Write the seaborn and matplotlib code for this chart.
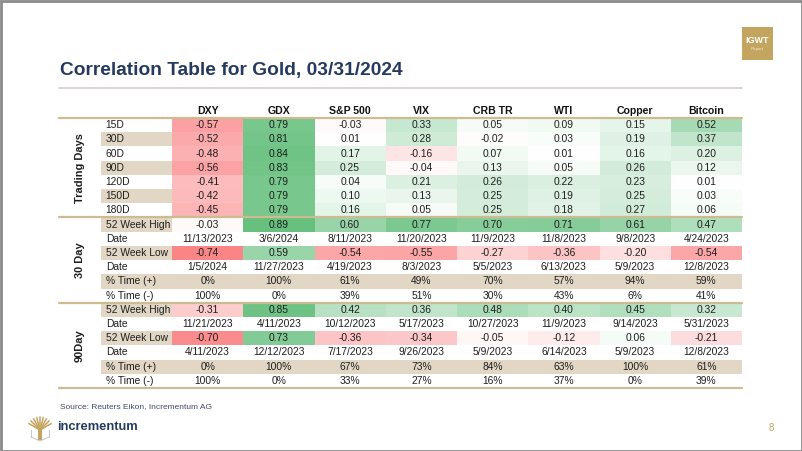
import numpy as np
import pandas as pd
import matplotlib
matplotlib.use("Agg")
import matplotlib.pyplot as plt
import seaborn as sns
from matplotlib.colors import LinearSegmentedColormap
from matplotlib.patches import Rectangle
from matplotlib.lines import Line2D

sns.set_theme(style="white")
plt.rcParams["font.family"] = ["Liberation Sans", "DejaVu Sans"]

# ---------------- data ----------------
columns = ["DXY", "GDX", "S&P 500", "VIX", "CRB TR", "WTI", "Copper", "Bitcoin"]
td_labels = ["15D", "30D", "60D", "90D", "120D", "150D", "180D"]
td_values = [
    [-0.57, 0.79, -0.03, 0.33, 0.05, 0.09, 0.15, 0.52],
    [-0.52, 0.81, 0.01, 0.28, -0.02, 0.03, 0.19, 0.37],
    [-0.48, 0.84, 0.17, -0.16, 0.07, 0.01, 0.16, 0.20],
    [-0.56, 0.83, 0.25, -0.04, 0.13, 0.05, 0.26, 0.12],
    [-0.41, 0.79, 0.04, 0.21, 0.26, 0.22, 0.23, 0.01],
    [-0.42, 0.79, 0.10, 0.13, 0.25, 0.19, 0.25, 0.03],
    [-0.45, 0.79, 0.16, 0.05, 0.25, 0.18, 0.27, 0.06],
]
d30_high = [-0.03, 0.89, 0.60, 0.77, 0.70, 0.71, 0.61, 0.47]
d30_high_date = ["11/13/2023", "3/6/2024", "8/11/2023", "11/20/2023", "11/9/2023", "11/8/2023", "9/8/2023", "4/24/2023"]
d30_low = [-0.74, 0.59, -0.54, -0.55, -0.27, -0.36, -0.20, -0.54]
d30_low_date = ["1/5/2024", "11/27/2023", "4/19/2023", "8/3/2023", "5/5/2023", "6/13/2023", "5/9/2023", "12/8/2023"]
d30_pos = [0, 100, 61, 49, 70, 57, 94, 59]
d30_neg = [100, 0, 39, 51, 30, 43, 6, 41]
d90_high = [-0.31, 0.85, 0.42, 0.36, 0.48, 0.40, 0.45, 0.32]
d90_high_date = ["11/21/2023", "4/11/2023", "10/12/2023", "5/17/2023", "10/27/2023", "11/9/2023", "9/14/2023", "5/31/2023"]
d90_low = [-0.70, 0.73, -0.36, -0.34, -0.05, -0.12, 0.06, -0.21]
d90_low_date = ["4/11/2023", "12/12/2023", "7/17/2023", "9/26/2023", "5/9/2023", "6/14/2023", "5/9/2023", "12/8/2023"]
d90_pos = [0, 100, 67, 73, 84, 63, 100, 61]
d90_neg = [100, 0, 33, 27, 16, 37, 0, 39]
group_labels = ["Trading Days", "30 Day", "90Day"]
block_labels = ["52 Week High", "Date", "52 Week Low", "Date", "% Time (+)", "% Time (-)"]

# ---------------- build table ----------------
rows = []  # (label, kind, values)
for lab, vals in zip(td_labels, td_values):
    rows.append((lab, "num", vals))
for hi, hid, lo, lod, pos, neg in [
    (d30_high, d30_high_date, d30_low, d30_low_date, d30_pos, d30_neg),
    (d90_high, d90_high_date, d90_low, d90_low_date, d90_pos, d90_neg),
]:
    rows.append((block_labels[0], "num", hi))
    rows.append((block_labels[1], "date", hid))
    rows.append((block_labels[2], "num", lo))
    rows.append((block_labels[3], "date", lod))
    rows.append((block_labels[4], "pct", pos))
    rows.append((block_labels[5], "pct", neg))

nrow, ncol = len(rows), len(columns)
mat = np.full((nrow, ncol), np.nan)
mask = np.ones((nrow, ncol), dtype=bool)
for i, (lab, kind, vals) in enumerate(rows):
    if kind == "num":
        mat[i] = vals
        mask[i] = False
df = pd.DataFrame(mat, columns=columns)

TAN = "#e1d7c4"
GOLD_LINE = "#cdbb92"
NAVY = "#263a5f"
TXT = "#1e1e1e"
FS = 7.4
FSL = 7.4

fig = plt.figure(figsize=(8.02, 4.51), dpi=100)

# overlay for decorations in pixel coords
bg = fig.add_axes([0, 0, 1, 1])
bg.set_xlim(0, 802)
bg.set_ylim(451, 0)
bg.axis("off")
bg.add_patch(Rectangle((0.5, 0.5), 801, 450, fill=False, ec="#8a8a8a", lw=2))
bg.text(60, 70, "Correlation Table for Gold, 03/31/2024", fontsize=13.8, fontweight="bold",
        color=NAVY, va="center", ha="left")
bg.add_line(Line2D([59, 742], [88, 88], color="#d3cdc5", lw=1.2))
bg.add_patch(Rectangle((742, 27), 31, 33, color="#c4a55f", lw=0))
bg.text(757.5, 40.5, "IGWT", fontsize=6.5, fontweight="bold", color="white", ha="center", va="center")
bg.text(757.5, 49, "Report", fontsize=3.2, color="#f3ead6", ha="center", va="center")
bg.text(60, 407, "Source: Reuters Eikon, Incrementum AG", fontsize=6, color="#3d4b6a", ha="left", va="center")
bg.text(57, 427, "incrementum", fontsize=9.3, fontweight="bold", color=NAVY, ha="left", va="center")
bg.text(771, 428, "8", fontsize=7, color="#c4a55f", ha="center", va="center")
# logo icon: fan tree + book
cx, cy = 40, 430
for ang in np.linspace(30, 150, 9):
    r = 13
    bg.add_line(Line2D([cx, cx + r * np.cos(np.radians(ang))], [cy, cy - r * np.sin(np.radians(ang))],
                       color="#c4a55f", lw=1.1))
bg.add_patch(Rectangle((38.4, 427), 3.2, 13, color="#c4a55f", lw=0))
bg.add_line(Line2D([31, 40, 49], [437, 441, 437], color="#c9c9c9", lw=0.8))
bg.add_line(Line2D([31, 31], [437, 430], color="#c9c9c9", lw=0.8))
bg.add_line(Line2D([49, 49], [437, 430], color="#c9c9c9", lw=0.8))

# table axes
ax = fig.add_axes([172 / 802, 1 - 388 / 451, 570 / 802, 270 / 451])
cmap = LinearSegmentedColormap.from_list("rwg", ["#F8696B", "#FFFFFF", "#63BE7B"])

# tan background rows (full rows for % Time (+))
for i, (lab, kind, vals) in enumerate(rows):
    if lab == "% Time (+)":
        ax.add_patch(Rectangle((0, i), ncol, 1, color=TAN, lw=0, zorder=0))

sns.heatmap(df, ax=ax, cmap=cmap, vmin=-0.85, vmax=0.92, center=0, mask=mask, cbar=False,
            xticklabels=False, yticklabels=False, linewidths=0, annot=False)
ax.set_xlim(0, ncol)
ax.set_ylim(nrow, 0)
for s in ax.spines.values():
    s.set_visible(False)
ax.tick_params(left=False, bottom=False)

tan_label_rows = {"30D", "90D", "150D", "52 Week High", "52 Week Low", "% Time (+)"}
for i, (lab, kind, vals) in enumerate(rows):
    if lab in tan_label_rows:
        ax.add_patch(Rectangle((-1, i), 1, 1, color=TAN, lw=0, zorder=0.5, clip_on=False))
    ax.text(-0.93, i + 0.5, lab, fontsize=FSL, color=TXT, ha="left", va="center", clip_on=False)
    for j, v in enumerate(vals):
        if kind == "num":
            s = f"{v:.2f}"
        elif kind == "pct":
            s = f"{v}%"
        else:
            s = v
        ax.text(j + 0.5, i + 0.5, s, fontsize=FS, color=TXT, ha="center", va="center")

for j, c in enumerate(columns):
    ax.text(j + 0.5, -0.5, c, fontsize=FS + 0.2, fontweight="bold", color="#111111", ha="center",
            va="center", clip_on=False)

x0 = (59 - 172) / 71.25
for yline in [0, 7, 13, nrow]:
    ax.add_line(Line2D([x0, ncol], [yline, yline], color=GOLD_LINE, lw=1.6, clip_on=False, zorder=5))

for lab, yc in zip(group_labels, [3.5, 10, 16]):
    ax.text(-1.29, yc, lab, fontsize=FSL + 0.5, fontweight="bold", color=TXT, rotation=90,
            ha="center", va="center", clip_on=False)

fig.savefig("out.png", dpi=100)
